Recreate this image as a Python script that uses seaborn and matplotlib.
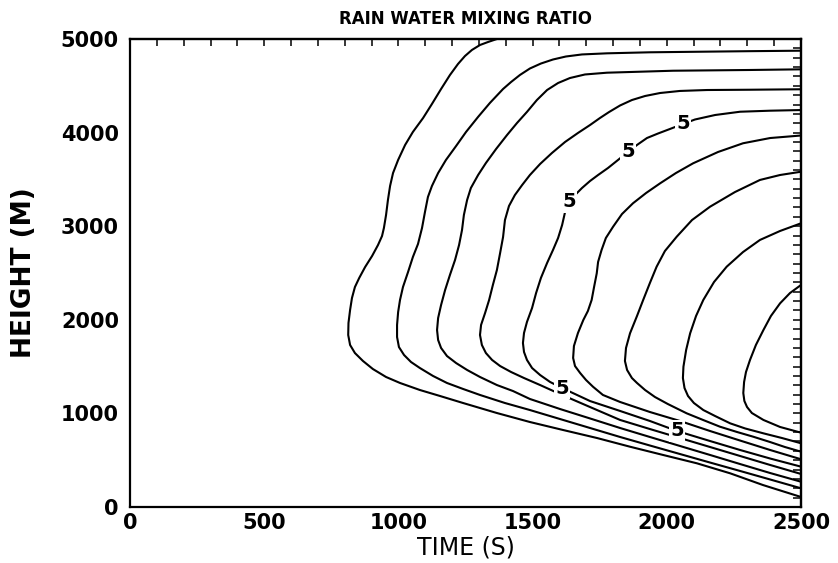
import numpy as np
import pandas as pd
import matplotlib
matplotlib.use("Agg")
import matplotlib.pyplot as plt
import seaborn as sns

# Contour traces of rain water mixing ratio: (time [s], height [m]) pairs,
# each running from its top end, through the nose, to its lower right end.
c1_t = [1367, 1334, 1304, 1274, 1248, 1222, 1192, 1159, 1125, 1092, 1054, 1025, 999, 980, 969, 961, 954, 946, 939, 924, 902, 876, 854, 838, 827, 820, 814, 813, 820, 838, 868, 905, 954, 1006, 1080, 1155, 1241, 1367, 1490, 1613, 1740, 1863, 1986, 2112, 2236, 2358, 2500]
c1_h = [5000, 4968, 4936, 4883, 4818, 4733, 4615, 4466, 4306, 4156, 4007, 3868, 3708, 3568, 3430, 3280, 3120, 2981, 2895, 2799, 2682, 2564, 2447, 2350, 2233, 2105, 1966, 1838, 1731, 1645, 1560, 1474, 1389, 1325, 1250, 1186, 1111, 1004, 908, 823, 737, 644, 556, 467, 360, 235, 107]

c2_t = [2500, 2310, 2124, 1937, 1777, 1684, 1624, 1576, 1531, 1490, 1453, 1420, 1390, 1341, 1297, 1252, 1215, 1177, 1148, 1125, 1110, 1099, 1088, 1073, 1054, 1036, 1017, 1006, 999, 995, 995, 1002, 1021, 1047, 1080, 1129, 1181, 1241, 1304, 1397, 1490, 1602, 1714, 1826, 1937, 2049, 2161, 2273, 2385, 2500]
c2_h = [4875, 4870, 4864, 4858, 4847, 4835, 4813, 4781, 4738, 4685, 4616, 4541, 4466, 4317, 4168, 4007, 3857, 3707, 3568, 3430, 3312, 3152, 2981, 2810, 2671, 2511, 2350, 2212, 2083, 1945, 1816, 1709, 1624, 1549, 1485, 1400, 1325, 1261, 1197, 1111, 1036, 940, 844, 748, 657, 566, 475, 385, 294, 200]

c3_t = [2500, 2310, 2023, 1777, 1695, 1639, 1595, 1554, 1516, 1479, 1442, 1405, 1364, 1326, 1297, 1270, 1256, 1244, 1237, 1226, 1211, 1192, 1174, 1159, 1148, 1144, 1148, 1159, 1181, 1215, 1256, 1304, 1367, 1427, 1490, 1602, 1714, 1826, 1937, 2049, 2161, 2273, 2385, 2500]
c3_h = [4676, 4669, 4661, 4640, 4621, 4583, 4530, 4455, 4348, 4221, 4103, 3975, 3825, 3675, 3547, 3408, 3280, 3120, 2959, 2799, 2639, 2479, 2318, 2158, 2019, 1891, 1784, 1699, 1613, 1538, 1464, 1389, 1303, 1239, 1154, 1047, 946, 844, 748, 652, 556, 459, 363, 270]

c4_t = [2500, 2310, 2150, 2049, 1975, 1919, 1870, 1826, 1785, 1751, 1714, 1669, 1621, 1572, 1528, 1490, 1461, 1434, 1412, 1397, 1390, 1379, 1367, 1352, 1338, 1323, 1308, 1304, 1311, 1326, 1349, 1379, 1420, 1468, 1528, 1602, 1714, 1826, 1937, 2049, 2161, 2273, 2385, 2500]
c4_h = [4463, 4458, 4455, 4445, 4423, 4391, 4348, 4290, 4220, 4156, 4081, 3996, 3900, 3782, 3665, 3547, 3440, 3333, 3216, 3066, 2885, 2714, 2532, 2372, 2212, 2073, 1945, 1838, 1731, 1645, 1571, 1506, 1442, 1378, 1303, 1207, 1068, 930, 833, 737, 641, 545, 449, 353]

c5_t = [2500, 2385, 2273, 2180, 2105, 2060, 2012, 1967, 1926, 1889, 1855, 1818, 1781, 1744, 1714, 1684, 1658, 1636, 1621, 1610, 1595, 1576, 1554, 1531, 1513, 1498, 1479, 1468, 1464, 1468, 1479, 1498, 1528, 1565, 1610, 1658, 1714, 1770, 1826, 1937, 2038, 2161, 2273, 2385, 2500]
c5_h = [4241, 4234, 4223, 4188, 4140, 4092, 4039, 3990, 3942, 3868, 3793, 3707, 3622, 3547, 3483, 3408, 3333, 3259, 3152, 3013, 2874, 2746, 2607, 2447, 2286, 2126, 1977, 1859, 1752, 1656, 1571, 1485, 1410, 1336, 1271, 1207, 1132, 1079, 1026, 919, 812, 705, 609, 518, 431]

c6_t = [2500, 2385, 2284, 2191, 2098, 2034, 1975, 1923, 1874, 1833, 1800, 1773, 1757, 1744, 1739, 1729, 1720, 1706, 1689, 1669, 1654, 1651, 1658, 1677, 1699, 1725, 1762, 1826, 1937, 2049, 2161, 2273, 2385, 2500]
c6_h = [3969, 3942, 3886, 3793, 3672, 3568, 3458, 3355, 3245, 3130, 2995, 2874, 2746, 2618, 2497, 2350, 2212, 2094, 1998, 1859, 1720, 1592, 1506, 1432, 1357, 1285, 1197, 1122, 1015, 919, 812, 710, 609, 510]

c7_t = [2500, 2422, 2347, 2254, 2161, 2094, 2037, 1993, 1962, 1937, 1912, 1889, 1863, 1848, 1844, 1852, 1870, 1889, 1919, 1956, 2004, 2074, 2135, 2198, 2262, 2322, 2385, 2440, 2500]
c7_h = [3582, 3547, 3494, 3365, 3208, 3066, 2888, 2735, 2567, 2393, 2212, 2041, 1856, 1699, 1560, 1464, 1378, 1325, 1250, 1175, 1100, 1001, 930, 858, 801, 751, 694, 641, 591]

c8_t = [2500, 2422, 2347, 2284, 2223, 2176, 2136, 2109, 2087, 2072, 2062, 2060, 2066, 2079, 2101, 2136, 2180, 2236, 2292, 2360, 2429, 2500]
c8_h = [3031, 2949, 2853, 2724, 2567, 2404, 2212, 2041, 1856, 1677, 1499, 1378, 1271, 1186, 1111, 1036, 972, 894, 839, 787, 737, 681]

c9_t = [2500, 2459, 2422, 2388, 2360, 2332, 2310, 2295, 2288, 2285, 2289, 2299, 2317, 2360, 2422, 2500]
c9_h = [2372, 2286, 2176, 2041, 1891, 1731, 1571, 1442, 1336, 1218, 1133, 1068, 1004, 930, 855, 794]

# Inline labels on the fifth contour
label_t = [2060, 1855, 1636, 1610, 2038]
label_h = [4092, 3793, 3259, 1271, 812]
label_text = ["5", "5", "5", "5", "5"]

x_ticks = [0, 500, 1000, 1500, 2000, 2500]
y_ticks = [0, 1000, 2000, 3000, 4000, 5000]

traces = [(c1_t, c1_h), (c2_t, c2_h), (c3_t, c3_h), (c4_t, c4_h), (c5_t, c5_h),
          (c6_t, c6_h), (c7_t, c7_h), (c8_t, c8_h), (c9_t, c9_h)]
frames = []
for i, (t, h) in enumerate(traces):
    frames.append(pd.DataFrame({"time": t, "height": h, "contour": i + 1,
                                "order": np.arange(len(t))}))
df = pd.concat(frames, ignore_index=True)

sns.set_theme(style="white")
plt.rcParams["font.family"] = ["DejaVu Sans"]
plt.rcParams["text.color"] = "black"
plt.rcParams["axes.labelcolor"] = "black"

fig = plt.figure(figsize=(8.38, 5.63), dpi=100)
ax = fig.add_axes([130 / 838, 1 - 507 / 563, 671 / 838, 468 / 563])

sns.lineplot(data=df, x="time", y="height", units="contour", estimator=None,
             sort=False, color="black", linewidth=1.5, ax=ax, legend=False)

for t, h, s in zip(label_t, label_h, label_text):
    ax.text(t, h, s, ha="center", va="center", fontsize=14, fontweight="bold",
            color="black", zorder=5,
            bbox=dict(boxstyle="square,pad=0.08", fc="white", ec="none"))

ax.set_xlim(0, 2500)
ax.set_ylim(0, 5000)
ax.set_xticks(x_ticks)
ax.set_yticks(y_ticks)
ax.set_xticks(np.arange(0, 2501, 100), minor=True)
ax.set_yticks(np.arange(0, 5001, 500), minor=True)
ax.tick_params(axis="both", which="both", direction="in", colors="black",
               top=False, right=False, width=1.3)
ax.tick_params(axis="x", which="major", length=7, pad=4, labelsize=15)
ax.tick_params(axis="x", which="minor", length=4)
ax.tick_params(axis="y", which="major", length=10, pad=8, labelsize=15)
ax.tick_params(axis="y", which="minor", length=8)
for lab in ax.get_xticklabels() + ax.get_yticklabels():
    lab.set_fontweight("bold")

# Fine ticks along the top and right frame
top = ax.secondary_xaxis("top")
top.set_xticks(np.arange(0, 2501, 100))
top.tick_params(direction="in", length=5, width=1.3, labeltop=False)
top.spines["top"].set_linewidth(1.6)
right = ax.secondary_yaxis("right")
right.set_yticks(np.arange(0, 5001, 100))
right.tick_params(direction="in", length=6, width=1.3, labelright=False)
right.spines["right"].set_linewidth(1.6)

for sp in ax.spines.values():
    sp.set_linewidth(1.6)
    sp.set_color("black")

ax.set_xlabel("TIME (S)", fontsize=17, labelpad=2)
ax.set_ylabel("HEIGHT (M)", fontsize=19, fontweight="bold", labelpad=17)
ax.set_title("RAIN WATER MIXING RATIO", fontsize=12, fontweight="bold", pad=11)

fig.savefig("out.png", dpi=100, facecolor="white")
